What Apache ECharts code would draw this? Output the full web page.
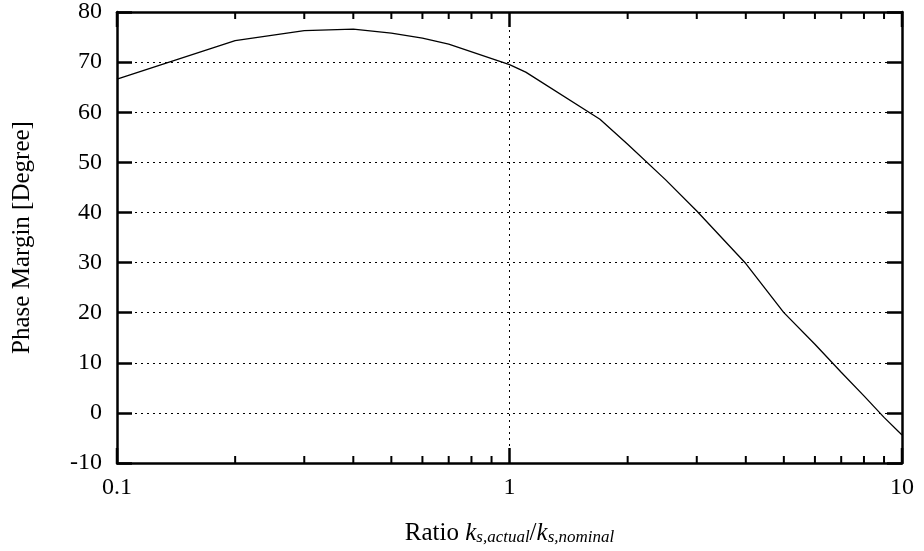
<!DOCTYPE html>
<html>
<head>
<meta charset="utf-8">
<script src="https://cdn.jsdelivr.net/npm/echarts@6/dist/echarts.min.js"></script>
<style>
html,body{margin:0;padding:0;background:#fff}
#main{width:924px;height:551px}
</style>
</head>
<body>
<div id="main"></div>
<script>
// ratio k_s,actual / k_s,nominal
var ratio = [0.1, 0.2, 0.3, 0.4, 0.5, 0.6, 0.7, 1.0, 1.1, 1.7, 2, 2.5, 3, 4, 5, 6, 7, 8, 9, 10];
// phase margin in degree
var phaseMargin = [66.6, 74.3, 76.3, 76.6, 75.8, 74.8, 73.6, 69.5, 68.0, 58.6, 53.6, 46.5, 40.3, 29.8, 20.0, 13.7, 8.1, 3.4, -0.9, -4.4];
// ticks of the log axis
var majorTicks = [0.1, 1, 10];
var minorTicks = [0.2, 0.3, 0.4, 0.5, 0.6, 0.7, 0.8, 0.9, 2, 3, 4, 5, 6, 7, 8, 9];
var yMin = -10, yMax = 80, yStep = 10;

var font = 'Liberation Serif';
var dom = document.getElementById('main');
var myChart = echarts.init(dom);

var lineData = [];
for (var i = 0; i < ratio.length; i++) {
	lineData.push([ratio[i], phaseMargin[i]]);
}
// [x, tick length]
var tickData = [];
for (var j = 0; j < minorTicks.length; j++) {
	tickData.push([minorTicks[j], 7]);
}
for (var k = 0; k < majorTicks.length; k++) {
	tickData.push([majorTicks[k], 15]);
}

var axisLine = {show: true, onZero: false, lineStyle: {color: '#000', width: 2.5}};
var bigTick = {show: true, inside: true, length: 15, lineStyle: {color: '#000', width: 2.5}};
var dotted = {show: true, lineStyle: {color: '#000', width: 1, type: [2, 4]}};

var option = {
	animation: false,
	backgroundColor: '#fff',
	grid: {left: 117, right: 22, top: 11, bottom: 87, containLabel: false},
	xAxis: [
		{
			type: 'log', logBase: 10, min: 0.1, max: 10,
			position: 'bottom',
			axisLine: axisLine,
			axisTick: {show: false},
			splitLine: dotted,
			axisLabel: {
				color: '#000', fontFamily: font, fontSize: 24, margin: 13,
				formatter: function (v) { return String(+v.toPrecision(3)); }
			},
			name: '{n|Ratio }{i|k}{s|s,actual}{n|/}{i|k}{s|s,nominal}',
			nameLocation: 'middle',
			nameGap: 57,
			nameTextStyle: {
				rich: {
					n: {fontFamily: font, fontSize: 25, lineHeight: 26, verticalAlign: 'bottom', color: '#000'},
					i: {fontFamily: font, fontSize: 25, fontStyle: 'italic', lineHeight: 26, verticalAlign: 'bottom', color: '#000'},
					s: {fontFamily: font, fontSize: 17, fontStyle: 'italic', lineHeight: 11, verticalAlign: 'bottom', color: '#000'}
				}
			}
		},
		{
			type: 'log', logBase: 10, min: 0.1, max: 10,
			position: 'top',
			axisLine: axisLine,
			axisTick: {show: false},
			axisLabel: {show: false},
			splitLine: {show: false}
		}
	],
	yAxis: [
		{
			type: 'value', min: yMin, max: yMax, interval: yStep,
			position: 'left',
			axisLine: axisLine,
			axisTick: bigTick,
			splitLine: dotted,
			axisLabel: {color: '#000', fontFamily: font, fontSize: 24, margin: 15},
			name: 'Phase Margin [Degree]',
			nameLocation: 'middle',
			nameGap: 82,
			nameTextStyle: {color: '#000', fontFamily: font, fontSize: 25}
		},
		{
			type: 'value', min: yMin, max: yMax, interval: yStep,
			position: 'right',
			axisLine: axisLine,
			axisTick: bigTick,
			axisLabel: {show: false},
			splitLine: {show: false}
		}
	],
	series: [
		{
			type: 'line',
			data: lineData,
			showSymbol: false,
			symbol: 'none',
			lineStyle: {color: '#000', width: 1.3},
			z: 5
		},
		{
			// x ticks on bottom and top edge
			type: 'custom',
			data: tickData,
			silent: true,
			clip: false,
			renderItem: function (params, api) {
				var len = api.value(1);
				var b = api.coord([api.value(0), yMin]);
				var t = api.coord([api.value(0), yMax]);
				var st = {stroke: '#000', lineWidth: len > 10 ? 2.5 : 2};
				return {
					type: 'group',
					children: [
						{type: 'line', shape: {x1: b[0], y1: b[1], x2: b[0], y2: b[1] - len}, style: st},
						{type: 'line', shape: {x1: t[0], y1: t[1], x2: t[0], y2: t[1] + len}, style: st}
					]
				};
			},
			z: 6
		}
	]
};

myChart.setOption(option, true);
</script>
</body>
</html>
